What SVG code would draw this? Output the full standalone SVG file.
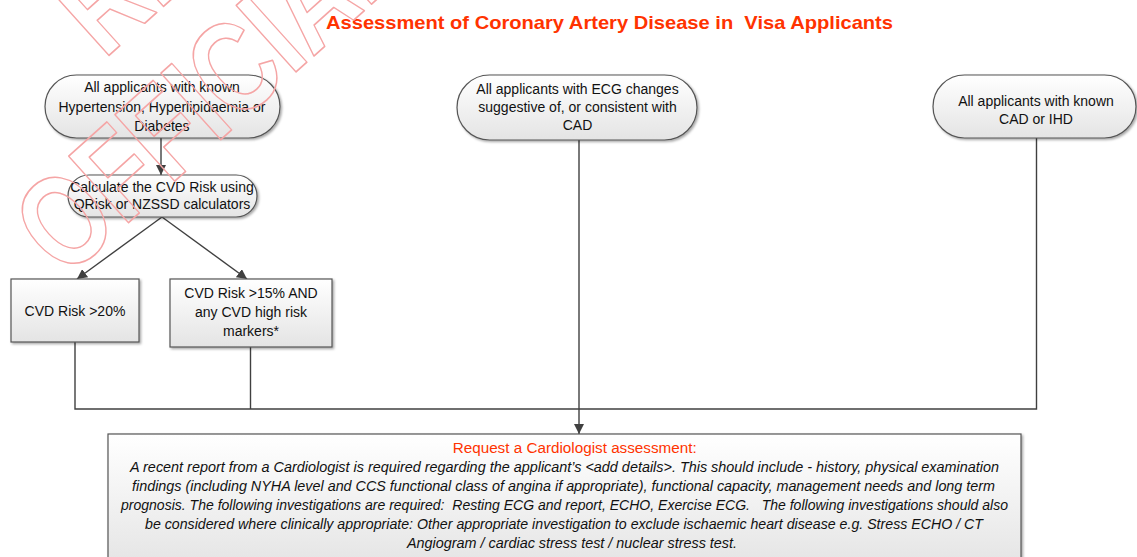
<svg xmlns="http://www.w3.org/2000/svg" width="1137" height="557" viewBox="0 0 1137 557">
<style>
.node{fill:url(#g);stroke:#555;stroke-width:1.2;filter:url(#sh)}
.t{font-family:"Liberation Sans",Arial,sans-serif;font-size:14px;fill:#111;text-anchor:middle}
.it{font-family:"Liberation Sans",Arial,sans-serif;font-size:14px;font-style:italic;fill:#111}
.conn{fill:none;stroke:#404040;stroke-width:1.4}
.wm{font-family:"Liberation Sans",Arial,sans-serif;font-weight:bold;font-size:130px;fill:none;stroke:#f5a5a5;stroke-width:1.6;stroke-linejoin:round}
</style>
<defs>
<linearGradient id="g" x1="0" y1="0" x2="0" y2="1">
<stop offset="0" stop-color="#ffffff"/>
<stop offset="1" stop-color="#e4e4e4"/>
</linearGradient>
<filter id="sh" x="-5%" y="-10%" width="110%" height="130%">
<feDropShadow dx="1.5" dy="1.5" stdDeviation="1" flood-color="#000" flood-opacity="0.35"/>
</filter>
<marker id="ah" markerUnits="userSpaceOnUse" markerWidth="10" markerHeight="10" refX="10" refY="5" orient="auto">
<path d="M0,0 L10,5 L0,10 z" fill="#404040"/>
</marker>
</defs>
<rect width="1137" height="557" fill="#fff"/>
<text x="326" y="28.5" xml:space="preserve" textLength="567" lengthAdjust="spacingAndGlyphs" style="font-family:'Liberation Sans',Arial,sans-serif;font-weight:bold;font-size:18.5px;fill:#ff3300">Assessment of Coronary Artery Disease in  Visa Applicants</text>
<g id="connectors">
<path class="conn" d="M161,138 V175" marker-end="url(#ah)"/>
<path class="conn" d="M162,217 L77,279" marker-end="url(#ah)"/>
<path class="conn" d="M162,217 L247,279" marker-end="url(#ah)"/>
<path class="conn" d="M75,342 V409 H1036.5 V138"/>
<path class="conn" d="M250.5,347 V409"/>
<path class="conn" d="M579,140 V434" marker-end="url(#ah)"/>
</g>
<g id="n1">
<rect class="node" x="45" y="75" width="235" height="63" rx="31.5"/>
<text class="t" x="162" y="92">All applicants with known</text>
<text class="t" x="162" y="111.5">Hypertension, Hyperlipidaemia or</text>
<text class="t" x="162" y="130.5">Diabetes</text>
</g>
<g id="n2">
<rect class="node" x="68" y="175" width="189" height="42" rx="21"/>
<text class="t" x="162" y="192">Calculate the CVD Risk using</text>
<text class="t" x="162" y="209">QRisk or NZSSD calculators</text>
</g>
<g id="n3">
<rect class="node" x="11" y="279" width="128" height="63"/>
<text class="t" x="75" y="316">CVD Risk &gt;20%</text>
</g>
<g id="n4">
<rect class="node" x="170" y="279" width="162" height="68"/>
<text class="t" x="251" y="298">CVD Risk &gt;15% AND</text>
<text class="t" x="251" y="317">any CVD high risk</text>
<text class="t" x="251" y="336">markers*</text>
</g>
<g id="n5">
<rect class="node" x="457" y="75" width="240" height="65" rx="32.5"/>
<text class="t" x="577.5" y="94">All applicants with ECG changes</text>
<text class="t" x="577.5" y="112">suggestive of, or consistent with</text>
<text class="t" x="577.5" y="130">CAD</text>
</g>
<g id="n6">
<rect class="node" x="933" y="75" width="203" height="63" rx="31.5"/>
<text class="t" x="1036" y="106">All applicants with known</text>
<text class="t" x="1036" y="123.5">CAD or IHD</text>
</g>
<g id="n7">
<rect class="node" x="108" y="434" width="913" height="135"/>
<text x="452.7" y="453" textLength="244" lengthAdjust="spacingAndGlyphs" style="font-family:'Liberation Sans',Arial,sans-serif;font-size:14px;fill:#ff3300">Request a Cardiologist assessment:</text>
<text class="it" x="130" y="472" textLength="869" lengthAdjust="spacingAndGlyphs">A recent report from a Cardiologist is required regarding the applicant’s &lt;add details&gt;. This should include - history, physical examination</text>
<text class="it" x="132" y="491" textLength="863" lengthAdjust="spacingAndGlyphs">findings (including NYHA level and CCS functional class of angina if appropriate), functional capacity, management needs and long term</text>
<text class="it" x="121" y="510" xml:space="preserve" textLength="887" lengthAdjust="spacingAndGlyphs">prognosis. The following investigations are required:  Resting ECG and report, ECHO, Exercise ECG.   The following investigations should also</text>
<text class="it" x="145" y="529.3" textLength="838" lengthAdjust="spacingAndGlyphs">be considered where clinically appropriate: Other appropriate investigation to exclude ischaemic heart disease e.g. Stress ECHO / CT</text>
<text class="it" x="407" y="548.3" textLength="330" lengthAdjust="spacingAndGlyphs">Angiogram / cardiac stress test / nuclear stress test.</text>
</g>
<g id="watermark">
<text class="wm" transform="translate(65,280) rotate(-42) scale(0.78,1)">OFFICIAL</text>
<text class="wm" transform="translate(104,60) rotate(-42) scale(0.78,1)">RE</text>
</g>
</svg>
